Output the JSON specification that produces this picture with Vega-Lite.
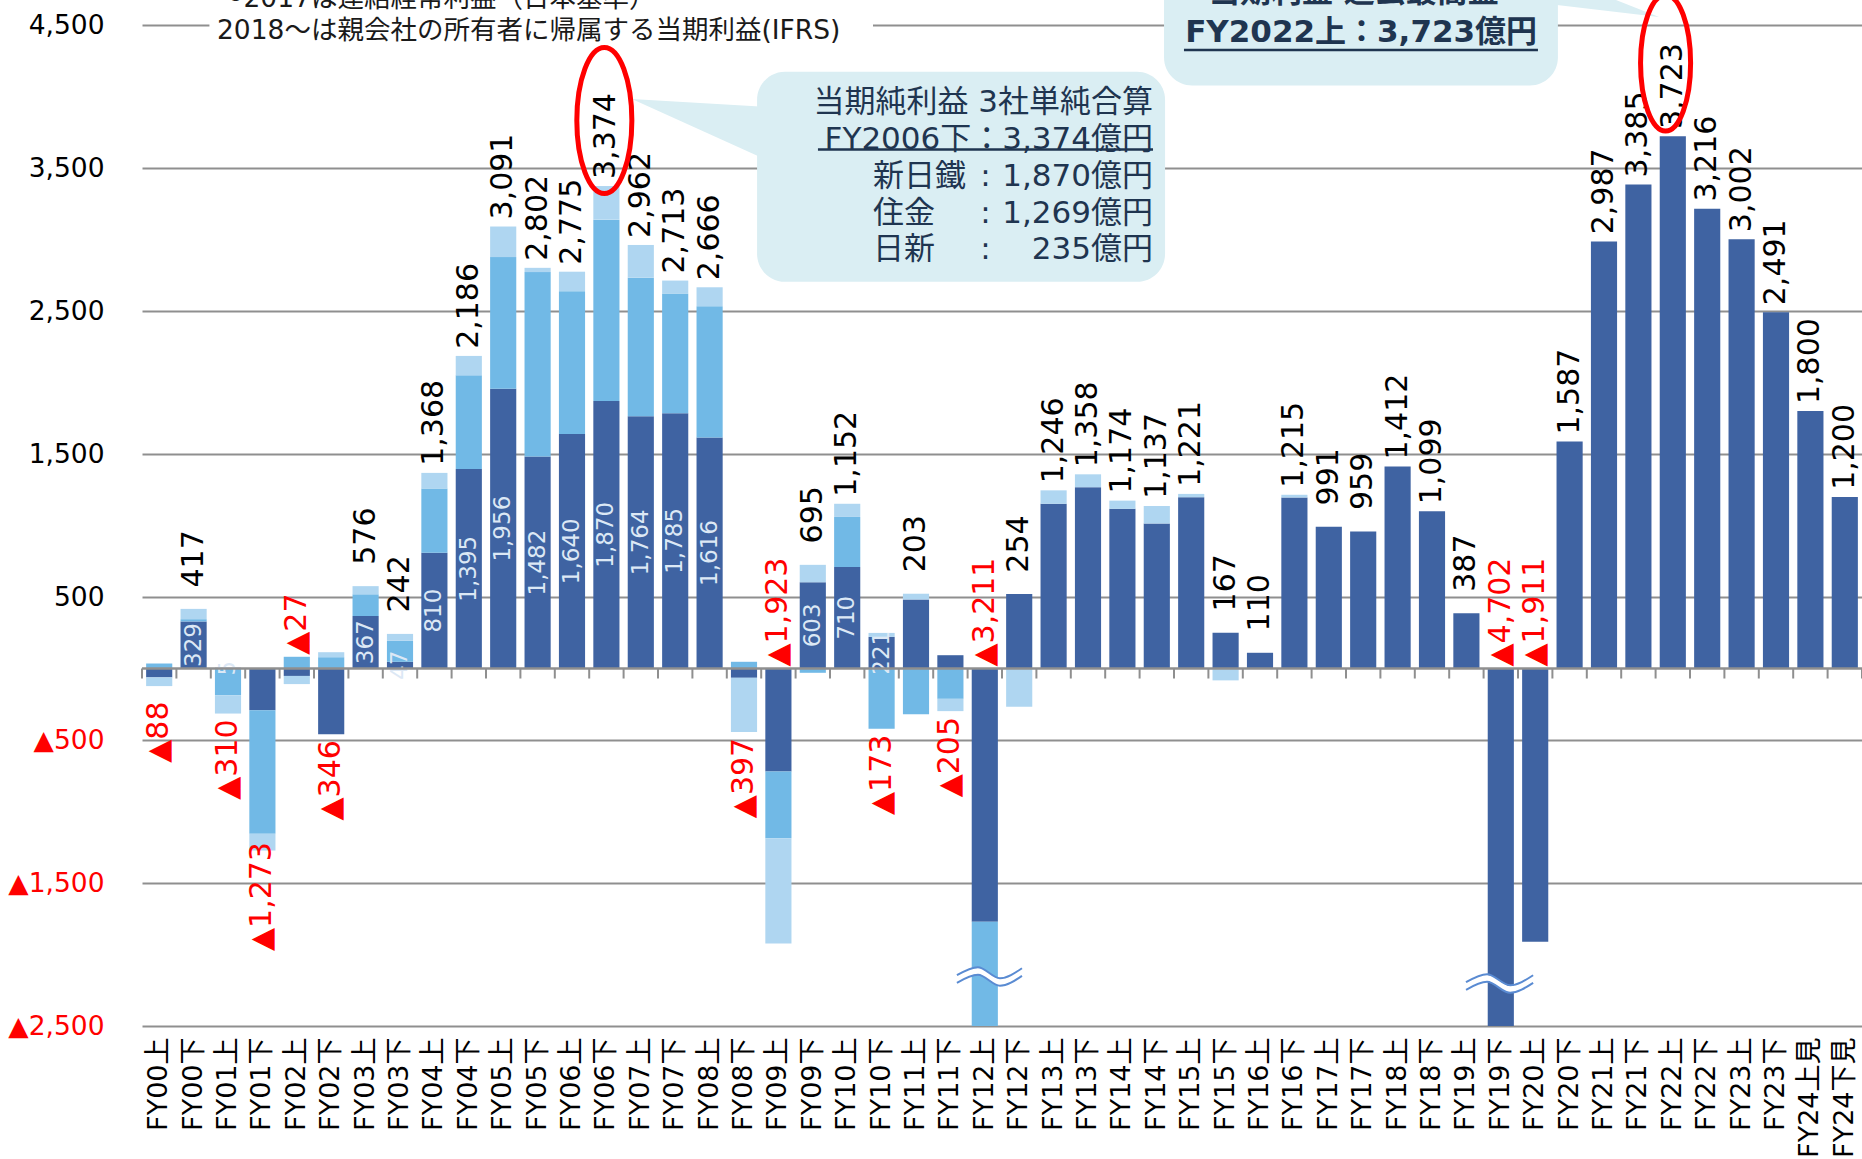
{
  "$schema": "https://vega.github.io/schema/vega-lite/v6.json",
  "width": 1720,
  "height": 1026,
  "autosize": "none",
  "padding": {"left": 142, "top": 0, "right": 0, "bottom": 133},
  "background": "white",
  "config": {"view": {"stroke": null}, "font": "DejaVu Sans, Noto Sans CJK JP"},
  "resolve": {"scale": {"x": "independent"}},
  "layer": [
    {
      "data": {"values": [
        {"p":"FY00上","nsc":-62,"smi":35,"nis":-61,"total":-88},
        {"p":"FY00下","nsc":329,"smi":16,"nis":72,"total":417},
        {"p":"FY01上","nsc":5,"smi":-187,"nis":-128,"total":-310},
        {"p":"FY01下","nsc":-292,"smi":-864,"nis":-117,"total":-1273},
        {"p":"FY02上","nsc":-52,"smi":82,"nis":-57,"total":-27},
        {"p":"FY02下","nsc":-460,"smi":79,"nis":35,"total":-346},
        {"p":"FY03上","nsc":367,"smi":152,"nis":57,"total":576},
        {"p":"FY03下","nsc":47,"smi":147,"nis":48,"total":242},
        {"p":"FY04上","nsc":810,"smi":449,"nis":109,"total":1368},
        {"p":"FY04下","nsc":1395,"smi":655,"nis":136,"total":2186},
        {"p":"FY05上","nsc":1956,"smi":921,"nis":214,"total":3091},
        {"p":"FY05下","nsc":1482,"smi":1290,"nis":30,"total":2802},
        {"p":"FY06上","nsc":1640,"smi":999,"nis":136,"total":2775},
        {"p":"FY06下","nsc":1870,"smi":1269,"nis":235,"total":3374},
        {"p":"FY07上","nsc":1764,"smi":969,"nis":229,"total":2962},
        {"p":"FY07下","nsc":1785,"smi":838,"nis":90,"total":2713},
        {"p":"FY08上","nsc":1616,"smi":918,"nis":132,"total":2666},
        {"p":"FY08下","nsc":-65,"smi":47,"nis":-379,"total":-397},
        {"p":"FY09上","nsc":-720,"smi":-467,"nis":-736,"total":-1923},
        {"p":"FY09下","nsc":603,"smi":-30,"nis":122,"total":695},
        {"p":"FY10上","nsc":710,"smi":350,"nis":92,"total":1152},
        {"p":"FY10下","nsc":221,"smi":-422,"nis":28,"total":-173},
        {"p":"FY11上","nsc":483,"smi":-320,"nis":40,"total":203},
        {"p":"FY11下","nsc":93,"smi":-212,"nis":-86,"total":-205},
        {"p":"FY12上","nsc":-1771,"smi":-1440,"nis":0,"total":-3211},
        {"p":"FY12下","nsc":521,"smi":0,"nis":-267,"total":254},
        {"p":"FY13上","nsc":1152,"smi":0,"nis":94,"total":1246},
        {"p":"FY13下","nsc":1268,"smi":0,"nis":90,"total":1358},
        {"p":"FY14上","nsc":1117,"smi":0,"nis":57,"total":1174},
        {"p":"FY14下","nsc":1014,"smi":0,"nis":123,"total":1137},
        {"p":"FY15上","nsc":1198,"smi":0,"nis":23,"total":1221},
        {"p":"FY15下","nsc":250,"smi":0,"nis":-83,"total":167},
        {"p":"FY16上","nsc":110,"smi":0,"nis":0,"total":110},
        {"p":"FY16下","nsc":1196,"smi":0,"nis":19,"total":1215},
        {"p":"FY17上","nsc":991,"smi":0,"nis":0,"total":991},
        {"p":"FY17下","nsc":959,"smi":0,"nis":0,"total":959},
        {"p":"FY18上","nsc":1412,"smi":0,"nis":0,"total":1412},
        {"p":"FY18下","nsc":1099,"smi":0,"nis":0,"total":1099},
        {"p":"FY19上","nsc":387,"smi":0,"nis":0,"total":387},
        {"p":"FY19下","nsc":-4702,"smi":0,"nis":0,"total":-4702},
        {"p":"FY20上","nsc":-1911,"smi":0,"nis":0,"total":-1911},
        {"p":"FY20下","nsc":1587,"smi":0,"nis":0,"total":1587},
        {"p":"FY21上","nsc":2987,"smi":0,"nis":0,"total":2987},
        {"p":"FY21下","nsc":3385,"smi":0,"nis":0,"total":3385},
        {"p":"FY22上","nsc":3723,"smi":0,"nis":0,"total":3723},
        {"p":"FY22下","nsc":3216,"smi":0,"nis":0,"total":3216},
        {"p":"FY23上","nsc":3002,"smi":0,"nis":0,"total":3002},
        {"p":"FY23下","nsc":2491,"smi":0,"nis":0,"total":2491},
        {"p":"FY24上見","nsc":1800,"smi":0,"nis":0,"total":1800},
        {"p":"FY24下見","nsc":1200,"smi":0,"nis":0,"total":1200}
      ]},
      "encoding": {
        "x": {"field": "p", "type": "nominal", "sort": null, "scale": {"paddingInner": 0.24, "paddingOuter": 0.12},
          "axis": {"title": null, "ticks": false, "domain": false, "labelAngle": 270, "labelFontSize": 27, "labelPadding": 11, "labelColor": "#000000", "labelOverlap": false, "labelLimit": 300, "labelFont": "DejaVu Sans, Noto Sans CJK JP"}},
        "y": {"field": "yv", "type": "quantitative",
          "scale": {"domain": [-2500, 4675], "nice": false, "zero": false},
          "axis": {"title": null, "values": [4500, 3500, 2500, 1500, 500, -500, -1500, -2500],
            "labelExpr": "datum.value < 0 ? '▲' + format(-datum.value, ',') : format(datum.value, ',')",
            "labelColor": {"condition": {"test": "datum.value < 0", "value": "#FF0000"}, "value": "#000000"},
            "grid": true, "gridColor": "#8F8F8F", "gridWidth": 2, "ticks": false, "domain": false,
            "labelFontSize": 26.5, "labelPadding": 38, "labelFont": "DejaVu Sans"}}
      },
      "layer": [
        {
          "transform": [
            {"fold": ["nsc", "smi", "nis"], "as": ["co", "yv"]},
            {"calculate": "indexof(['nsc','smi','nis'], datum.co)", "as": "ord"}
          ],
          "mark": {"type": "bar", "clip": true},
          "encoding": {
            "color": {"field": "co", "type": "nominal", "scale": {"domain": ["nsc", "smi", "nis"], "range": ["#3F63A2", "#71B9E6", "#AFD6F1"]}, "legend": null},
            "order": {"field": "ord", "type": "quantitative"}
          }
        },
        {
          "transform": [
            {"filter": "datum.total >= 0"},
            {"calculate": "max(datum.nsc,0)+max(datum.smi,0)+max(datum.nis,0)", "as": "yv"},
            {"calculate": "format(datum.total, ',')", "as": "lbl"}
          ],
          "mark": {"type": "text", "angle": 270, "align": "center", "baseline": "middle", "dx": 50, "fontSize": 30, "color": "#000000", "font": "DejaVu Sans"},
          "encoding": {"text": {"field": "lbl"}}
        },
        {
          "transform": [
            {"filter": "datum.total < 0 && datum.total <= -50 && datum.total >= -1500"},
            {"calculate": "min(datum.nsc,0)+min(datum.smi,0)+min(datum.nis,0)", "as": "yv"},
            {"calculate": "'▲' + format(-datum.total, ',')", "as": "lbl"}
          ],
          "mark": {"type": "text", "angle": 270, "align": "center", "baseline": "middle", "dx": -46, "fontSize": 30, "color": "#FF0000", "font": "DejaVu Sans"},
          "encoding": {"text": {"field": "lbl"}}
        },
        {
          "transform": [
            {"filter": "datum.total < 0 && (datum.total > -50 || datum.total < -1500)"},
            {"calculate": "max(datum.nsc,0)+max(datum.smi,0)+max(datum.nis,0)", "as": "yv"},
            {"calculate": "'▲' + format(-datum.total, ',')", "as": "lbl"}
          ],
          "mark": {"type": "text", "angle": 270, "align": "left", "baseline": "middle", "dx": 2, "fontSize": 30, "color": "#FF0000", "font": "DejaVu Sans"},
          "encoding": {"text": {"field": "lbl"}}
        },
        {
          "transform": [
            {"window": [{"op": "row_number", "as": "i"}]},
            {"filter": "datum.i <= 22 && datum.nsc > 0"},
            {"calculate": "datum.nsc / 2", "as": "yv"},
            {"calculate": "format(datum.nsc, ',')", "as": "lbl"}
          ],
          "mark": {"type": "text", "angle": 270, "align": "center", "baseline": "middle", "fontSize": 23, "color": "#DCE8F5", "font": "DejaVu Sans"},
          "encoding": {"text": {"field": "lbl"}}
        }
      ]
    },
    {
      "encoding": {
        "x": {"field": "ax", "type": "quantitative", "scale": {"domain": [0, 50], "nice": false, "zero": false}, "axis": null},
        "y": {"field": "ay", "type": "quantitative",
          "scale": {"domain": [-2500, 4675], "nice": false, "zero": false},
          "axis": {"title": null, "values": [4500, 3500, 2500, 1500, 500, -500, -1500, -2500],
            "labelExpr": "datum.value < 0 ? '▲' + format(-datum.value, ',') : format(datum.value, ',')",
            "labelColor": {"condition": {"test": "datum.value < 0", "value": "#FF0000"}, "value": "#000000"},
            "grid": true, "gridColor": "#8F8F8F", "gridWidth": 2, "ticks": false, "domain": false,
            "labelFontSize": 26.5, "labelPadding": 38, "labelFont": "DejaVu Sans"}}
      },
      "layer": [
        {
          "data": {"values": [{"ax": 1.96, "ax2": 21.25, "ay": 4319, "ay2": 4900}]},
          "mark": {"type": "rect", "fill": "#FFFFFF"},
          "encoding": {"x2": {"field": "ax2"}, "y2": {"field": "ay2"}}
        },
        {
          "data": {"values": [
            {"ax": 2.18, "ay": 4682, "t": "～2017は連結経常利益（日本基準）"},
            {"ax": 2.18, "ay": 4457, "t": "2018～は親会社の所有者に帰属する当期利益(IFRS)"}
          ]},
          "mark": {"type": "text", "align": "left", "baseline": "middle", "fontSize": 26.5, "color": "#1A1A1A", "font": "DejaVu Sans, Noto Sans CJK JP"},
          "encoding": {"text": {"field": "t"}}
        },
        {
          "data": {"values": [{"ax": 0, "ax2": 50, "ay": 0}]},
          "mark": {"type": "rule", "color": "#8F8F8F", "strokeWidth": 2.5},
          "encoding": {"x2": {"field": "ax2"}}
        },
        {
          "data": {"values": [
            {"ax":0,"ay":0,"ay2":-70},{"ax":1,"ay":0,"ay2":-70},{"ax":2,"ay":0,"ay2":-70},{"ax":3,"ay":0,"ay2":-70},{"ax":4,"ay":0,"ay2":-70},
            {"ax":5,"ay":0,"ay2":-70},{"ax":6,"ay":0,"ay2":-70},{"ax":7,"ay":0,"ay2":-70},{"ax":8,"ay":0,"ay2":-70},{"ax":9,"ay":0,"ay2":-70},
            {"ax":10,"ay":0,"ay2":-70},{"ax":11,"ay":0,"ay2":-70},{"ax":12,"ay":0,"ay2":-70},{"ax":13,"ay":0,"ay2":-70},{"ax":14,"ay":0,"ay2":-70},
            {"ax":15,"ay":0,"ay2":-70},{"ax":16,"ay":0,"ay2":-70},{"ax":17,"ay":0,"ay2":-70},{"ax":18,"ay":0,"ay2":-70},{"ax":19,"ay":0,"ay2":-70},
            {"ax":20,"ay":0,"ay2":-70},{"ax":21,"ay":0,"ay2":-70},{"ax":22,"ay":0,"ay2":-70},{"ax":23,"ay":0,"ay2":-70},{"ax":24,"ay":0,"ay2":-70},
            {"ax":25,"ay":0,"ay2":-70},{"ax":26,"ay":0,"ay2":-70},{"ax":27,"ay":0,"ay2":-70},{"ax":28,"ay":0,"ay2":-70},{"ax":29,"ay":0,"ay2":-70},
            {"ax":30,"ay":0,"ay2":-70},{"ax":31,"ay":0,"ay2":-70},{"ax":32,"ay":0,"ay2":-70},{"ax":33,"ay":0,"ay2":-70},{"ax":34,"ay":0,"ay2":-70},
            {"ax":35,"ay":0,"ay2":-70},{"ax":36,"ay":0,"ay2":-70},{"ax":37,"ay":0,"ay2":-70},{"ax":38,"ay":0,"ay2":-70},{"ax":39,"ay":0,"ay2":-70},
            {"ax":40,"ay":0,"ay2":-70},{"ax":41,"ay":0,"ay2":-70},{"ax":42,"ay":0,"ay2":-70},{"ax":43,"ay":0,"ay2":-70},{"ax":44,"ay":0,"ay2":-70},
            {"ax":45,"ay":0,"ay2":-70},{"ax":46,"ay":0,"ay2":-70},{"ax":47,"ay":0,"ay2":-70},{"ax":48,"ay":0,"ay2":-70},{"ax":49,"ay":0,"ay2":-70},
            {"ax":50,"ay":0,"ay2":-70}
          ]},
          "mark": {"type": "rule", "color": "#8F8F8F", "strokeWidth": 2},
          "encoding": {"y2": {"field": "ay2"}}
        },
        {
          "data": {"values": [
            {"g": 1, "ax": 14.24, "ay": 3982, "ay2": 3982},
            {"g": 1, "ax": 18.3, "ay": 3926, "ay2": 3541},
            {"g": 2, "ax": 40.64, "ay": 4885, "ay2": 4654},
            {"g": 2, "ax": 44.1, "ay": 4556, "ay2": 4556}
          ]},
          "mark": {"type": "area", "color": "#DAEEF3", "opacity": 1, "interpolate": "linear"},
          "encoding": {"y2": {"field": "ay2"}, "detail": {"field": "g", "type": "nominal"}}
        },
        {
          "data": {"values": [
            {"ax": 17.88, "ax2": 29.74, "ay": 2704, "ay2": 4173},
            {"ax": 29.71, "ax2": 41.16, "ay": 4077, "ay2": 5200}
          ]},
          "mark": {"type": "rect", "fill": "#DAEEF3", "cornerRadius": 28},
          "encoding": {"x2": {"field": "ax2"}, "y2": {"field": "ay2"}}
        },
        {
          "data": {"values": [
            {"ax": 29.39, "ay": 3952, "t": "当期純利益 3社単純合算"},
            {"ax": 29.39, "ay": 3695, "t": "FY2006下：3,374億円"},
            {"ax": 29.39, "ay": 3439, "t": "1,870億円"},
            {"ax": 29.39, "ay": 3178, "t": "1,269億円"},
            {"ax": 29.39, "ay": 2926, "t": "235億円"}
          ]},
          "mark": {"type": "text", "align": "right", "baseline": "middle", "fontSize": 31, "color": "#1F3550", "font": "DejaVu Sans, Noto Sans CJK JP"},
          "encoding": {"text": {"field": "t"}}
        },
        {
          "data": {"values": [
            {"ax": 21.25, "ay": 3439, "t": "新日鐵"},
            {"ax": 21.25, "ay": 3178, "t": "住金"},
            {"ax": 21.25, "ay": 2926, "t": "日新"}
          ]},
          "mark": {"type": "text", "align": "left", "baseline": "middle", "fontSize": 31, "color": "#1F3550", "font": "Noto Sans CJK JP"},
          "encoding": {"text": {"field": "t"}}
        },
        {
          "data": {"values": [
            {"ax": 24.52, "ay": 3439, "t": ":"},
            {"ax": 24.52, "ay": 3178, "t": ":"},
            {"ax": 24.52, "ay": 2926, "t": ":"}
          ]},
          "mark": {"type": "text", "align": "center", "baseline": "middle", "fontSize": 31, "color": "#1F3550", "font": "DejaVu Sans"},
          "encoding": {"text": {"field": "t"}}
        },
        {
          "data": {"values": [
            {"ax": 19.65, "ax2": 29.39, "ay": 3630},
            {"ax": 30.29, "ax2": 40.58, "ay": 4325}
          ]},
          "mark": {"type": "rule", "color": "#1F3550", "strokeWidth": 2.5},
          "encoding": {"x2": {"field": "ax2"}}
        },
        {
          "data": {"values": [
            {"ax": 35.23, "ay": 4724, "t": "当期利益 過去最高益"},
            {"ax": 35.44, "ay": 4444, "t": "FY2022上：3,723億円"}
          ]},
          "mark": {"type": "text", "align": "center", "baseline": "middle", "fontSize": 31, "fontWeight": "bold", "color": "#1F3550", "font": "DejaVu Sans, Noto Sans CJK JP"},
          "encoding": {"text": {"field": "t"}}
        },
        {
          "data": {"values": [{"ax": 13.44, "ay": 3832}]},
          "mark": {"type": "point", "filled": false, "color": "#FF0000", "strokeWidth": 5, "opacity": 1, "size": 21316,
            "shape": "M 0 -1 C 0.2082 -1 0.377 -0.5523 0.377 0 C 0.377 0.5523 0.2082 1 0 1 C -0.2082 1 -0.377 0.5523 -0.377 0 C -0.377 -0.5523 -0.2082 -1 0 -1 Z"}
        },
        {
          "data": {"values": [{"ax": 44.29, "ay": 4234}]},
          "mark": {"type": "point", "filled": false, "color": "#FF0000", "strokeWidth": 5, "opacity": 1, "size": 18496,
            "shape": "M 0 -1 C 0.2032 -1 0.368 -0.5523 0.368 0 C 0.368 0.5523 0.2032 1 0 1 C -0.2032 1 -0.368 0.5523 -0.368 0 C -0.368 -0.5523 -0.2032 -1 0 -1 Z"}
        },
        {
          "data": {"values": [
            {"g": "a", "o": 1, "ax": 23.69, "ay": -2172},
            {"g": "a", "o": 2, "ax": 24.3, "ay": -2116},
            {"g": "a", "o": 3, "ax": 24.94, "ay": -2193},
            {"g": "a", "o": 4, "ax": 25.58, "ay": -2123},
            {"g": "b", "o": 1, "ax": 38.49, "ay": -2221},
            {"g": "b", "o": 2, "ax": 39.1, "ay": -2165},
            {"g": "b", "o": 3, "ax": 39.77, "ay": -2242},
            {"g": "b", "o": 4, "ax": 40.44, "ay": -2172}
          ]},
          "mark": {"type": "line", "color": "#FFFFFF", "strokeWidth": 6, "interpolate": "monotone"},
          "encoding": {"detail": {"field": "g", "type": "nominal"}, "order": {"field": "o", "type": "quantitative"}}
        },
        {
          "data": {"values": [
            {"g": "a1", "o": 1, "ax": 23.69, "ay": -2145},
            {"g": "a1", "o": 2, "ax": 24.3, "ay": -2089},
            {"g": "a1", "o": 3, "ax": 24.94, "ay": -2166},
            {"g": "a1", "o": 4, "ax": 25.58, "ay": -2096},
            {"g": "a2", "o": 1, "ax": 23.69, "ay": -2198},
            {"g": "a2", "o": 2, "ax": 24.3, "ay": -2142},
            {"g": "a2", "o": 3, "ax": 24.94, "ay": -2219},
            {"g": "a2", "o": 4, "ax": 25.58, "ay": -2149},
            {"g": "b1", "o": 1, "ax": 38.49, "ay": -2194},
            {"g": "b1", "o": 2, "ax": 39.1, "ay": -2138},
            {"g": "b1", "o": 3, "ax": 39.77, "ay": -2215},
            {"g": "b1", "o": 4, "ax": 40.44, "ay": -2145},
            {"g": "b2", "o": 1, "ax": 38.49, "ay": -2247},
            {"g": "b2", "o": 2, "ax": 39.1, "ay": -2191},
            {"g": "b2", "o": 3, "ax": 39.77, "ay": -2268},
            {"g": "b2", "o": 4, "ax": 40.44, "ay": -2198}
          ]},
          "mark": {"type": "line", "color": "#5A8BD2", "strokeWidth": 2, "interpolate": "monotone"},
          "encoding": {"detail": {"field": "g", "type": "nominal"}, "order": {"field": "o", "type": "quantitative"}}
        }
      ]
    }
  ]
}
